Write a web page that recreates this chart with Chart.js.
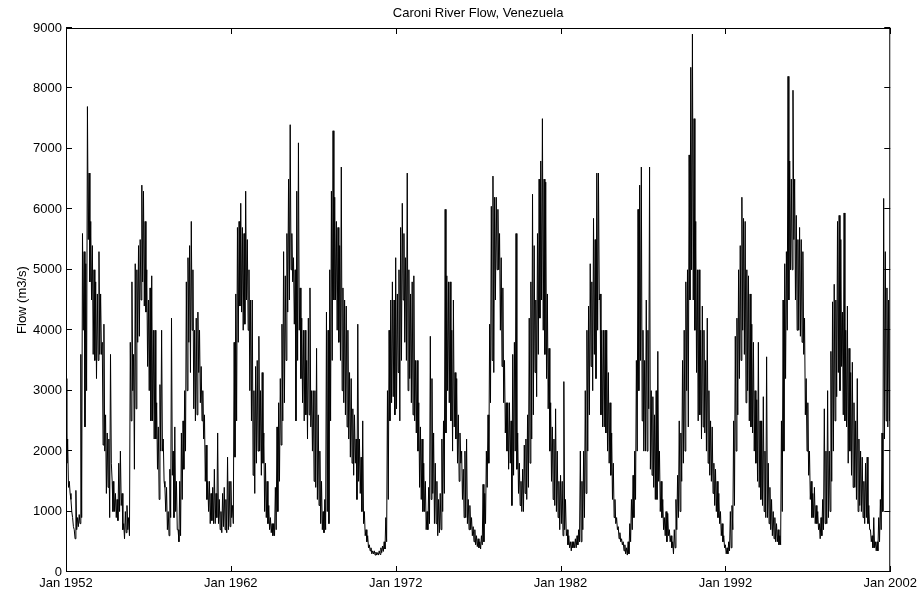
<!DOCTYPE html>
<html>
<head>
<meta charset="utf-8">
<title>Caroni River Flow, Venezuela</title>
<script src="https://cdn.jsdelivr.net/npm/chart.js@4"></script>
<style>
  html, body { margin: 0; padding: 0; background: #fff; }
</style>
</head>
<body>
<canvas id="flow" width="921" height="594"></canvas>
<script>
// Flow (m3/s). Each 0.1 yr slot holds two values:
// the upper then the lower edge of the band drawn in that slot.
const flow1952 = [
  3200,1800, 2200,1400, 1500,1300, 1200,1000, 900,750, 700,550, 1350,700, 900,750, 950,800, 3600,900,
  5600,4000, 5300,2400, 5100,3000, 7700,5500, 6600,4800, 5800,4500, 5400,3600, 5000,3500, 4800,3200, 4600,3500,
  5300,3600, 4600,3600, 3800,2100, 4100,2000, 2600,1300, 2300,1400, 2200,900, 3600,1800, 1500,1000, 1500,1000,
  1300,900, 1200,850, 1800,1000, 2000,1100, 1300,700, 800,550, 1000,650, 1100,700, 900,600, 3800,2500,
  4800,3000, 3600,1700, 5100,2700, 5000,3800, 5400,3900, 5500,4500, 6400,4800, 6300,4400, 5800,4300, 5000,3400,
  4500,3000, 4700,2500, 4900,2500, 4000,2200, 4000,2200, 2800,1700, 2400,1200, 3100,2000, 4000,2000, 2200,1500,
  1400,1000, 1400,700, 1000,600, 1700,900, 4200,1600, 2000,900, 2400,1000, 1500,700, 700,500, 1500,600,
  2300,1200, 2500,1700, 3000,2000, 4800,3000, 5200,3800, 5400,3300, 5800,4000, 5000,2700, 4000,2500, 4200,2600,
  4300,3300, 4000,2800, 3400,2500, 3000,2200, 2600,1500, 2100,1200, 1500,1000, 1500,800, 1300,850, 1400,800,
  1700,800, 1300,900, 2300,800, 1200,700, 1000,650, 1300,750, 1400,700, 1200,650, 1900,700, 1500,750
];
const flow1962 = [
  1500,900, 1100,800, 3800,1900, 4600,2500, 5700,3800, 5800,4400, 6100,4300, 5700,4000, 5600,4100, 6300,4500,
  5500,4000, 5000,3000, 4500,2500, 4500,1600, 3000,1300, 3400,1800, 3500,2000, 3900,2000, 3000,1600, 3300,1800,
  2300,1000, 1800,900, 1500,800, 1100,700, 900,650, 800,600, 800,600, 1400,700, 2400,1000, 2800,1500,
  3200,2100, 4100,2500, 5300,2800, 4900,3500, 5600,4300, 6500,4500, 7400,5000, 5600,4800, 5200,4100, 5000,2500,
  6300,3500, 7100,4000, 4700,3200, 4200,2800, 4000,2500, 4000,2600, 3500,2200, 4200,2600, 4700,2400, 3000,2000,
  3000,1500, 3000,1400, 3700,1200, 2600,1100, 2000,800, 1500,700, 1000,650, 1200,700, 4300,1000, 4000,800,
  5000,2500, 6300,3500, 7300,4500, 6200,4500, 5800,4000, 5700,3800, 5400,3500, 6700,3000, 4700,2800, 4500,2600,
  4400,2400, 4000,2200, 3300,1900, 3200,1800, 2700,1600, 2600,1800, 2200,1200, 4100,1500, 2200,1300, 1900,1000,
  2500,800, 1000,600, 700,500, 600,400, 450,350, 400,300, 350,300, 350,280, 330,280, 320,280,
  350,290, 400,320, 430,340, 500,380, 900,500, 3000,1200, 4000,2500, 4500,2800, 4800,2900, 4500,2600
];
const flow1972 = [
  5200,2700, 4600,3300, 5000,2500, 5700,3500, 6100,4500, 5600,3800, 5200,3500, 6600,3000, 5000,3200, 4600,2800,
  4800,2600, 4900,2500, 3500,2300, 3500,2000, 2800,1400, 2400,1200, 2200,1000, 1800,1000, 1500,700, 1000,700,
  1400,800, 3900,1200, 3200,1300, 2300,800, 1800,800, 1500,600, 1200,650, 1300,700, 2200,1000, 2500,1300,
  6000,2300, 4900,3000, 4800,2800, 4800,2500, 4000,2000, 4500,2400, 3300,2200, 3200,1800, 2600,1500, 2300,1800,
  2000,1200, 1700,900, 2000,900, 2200,800, 1200,700, 1100,700, 900,600, 750,500, 700,450, 600,420,
  550,400, 500,380, 600,450, 1450,500, 1300,800, 2000,1400, 2600,1800, 4100,2800, 6050,3500, 6550,3300,
  6200,4500, 6200,5000, 6000,5000, 5600,4000, 5200,3400, 4700,2800, 3500,2300, 2800,2000, 2800,1700, 2800,1800,
  2500,1100, 3600,1600, 3800,2000, 5600,1700, 2300,1300, 1800,1100, 1500,1000, 1700,1000, 2100,1300, 2200,1200,
  2600,1400, 4200,1800, 4800,2200, 6250,2600, 5400,3300, 4500,2900, 5600,3600, 6500,4200, 6800,4500, 7500,4000,
  6500,3600, 6450,3200, 4600,2700, 3700,2000, 2800,1500, 2400,1200, 2200,1100, 2700,1000, 2000,900, 1500,700
];
const flow1982 = [
  1600,800, 1500,600, 3150,700, 1200,600, 700,450, 600,400, 500,350, 500,400, 500,400, 550,400,
  600,450, 700,500, 2000,500, 1500,700, 2000,900, 3000,1300, 4000,2000, 4400,2600, 5100,3400, 4800,3000,
  5850,3600, 5500,3200, 6600,4000, 6600,4500, 4600,2600, 4000,2400, 4000,2400, 4000,2300, 4000,2000, 3300,1800,
  2800,1600, 2300,1200, 1800,900, 1200,800, 900,700, 750,550, 650,500, 550,450, 500,350, 450,300,
  400,280, 500,300, 800,500, 1200,700, 1600,900, 2000,1200, 3500,2000, 6000,3000, 6400,3500, 6700,2500,
  4000,2000, 3500,2000, 4500,2000, 4000,2700, 6700,1700, 3000,1600, 2900,1400, 2600,1200, 3000,1200, 3650,1500,
  2000,1000, 1500,900, 1200,700, 900,600, 1000,500, 970,600, 700,500, 600,400, 500,300, 700,400,
  1200,700, 1600,900, 2500,1000, 2300,1500, 3500,1800, 4000,2000, 4800,3000, 5000,2400, 6900,4500, 8350,5000,
  8900,4500, 7500,4000, 5800,3300, 5000,2500, 5000,2600, 4000,2200, 4400,2400, 4000,2300, 3500,2000, 4200,1800,
  3000,1600, 2500,1500, 2400,1300, 1800,1100, 1700,1000, 1500,900, 1300,800, 1000,600, 800,500, 600,400
];
const flow1992 = [
  450,300, 400,300, 500,350, 1000,400, 1100,700, 2500,1100, 3900,2000, 4200,2600, 5000,3200, 5400,3500,
  6200,4000, 5850,3600, 5800,2800, 5000,3000, 4900,2500, 4600,2400, 4100,2300, 3800,2000, 3000,1800, 2850,1500,
  3800,1400, 2500,1200, 2500,1100, 2900,1000, 2000,900, 3560,900, 1800,800, 1400,700, 1200,600, 1000,550,
  900,500, 800,500, 700,450, 600,450, 2500,1000, 4500,2000, 5100,3200, 5300,4000, 8200,4500, 6800,5000,
  6500,5000, 7970,5500, 6500,4500, 5900,4000, 5500,4000, 5700,3900, 5500,3800, 5300,3600, 4200,2600, 3200,2000,
  2800,1600, 2000,1200, 1500,900, 1300,900, 1400,800, 1100,800, 1000,700, 800,550, 900,600, 1200,700,
  2700,800, 2000,800, 3000,900, 2000,1000, 3650,1500, 4470,2000, 4760,2500, 4500,2900, 5800,3300, 5900,3000,
  5500,3400, 4300,2600, 5940,2500, 4000,2400, 4400,1800, 3700,2000, 3300,1600, 3470,1400, 2800,1400, 2500,1200,
  3200,1000, 2200,1100, 2000,1000, 1900,900, 1500,800, 1800,900, 1900,800, 1100,700, 700,500, 600,400,
  900,400, 500,350, 500,350, 900,500, 1200,700, 2300,1000, 6180,2200, 5300,2500, 4700,2400, 4500,2500
];

const decadeStarts = [1952, 1962, 1972, 1982, 1992];
const decadeFlows = [flow1952, flow1962, flow1972, flow1982, flow1992];
const slotStep = 0.05; // years between consecutive values

const xTicks = [1952, 1962, 1972, 1982, 1992, 2002];
const yTicks = [0, 1000, 2000, 3000, 4000, 5000, 6000, 7000, 8000, 9000];

const titleText = 'Caroni River Flow, Venezuela';
const yLabel = 'Flow (m3/s)';
const FONT = '"Liberation Sans", Arial, Helvetica, sans-serif';

const points = [];
decadeFlows.forEach((vals, d) => {
  vals.forEach((v, i) => points.push({ x: decadeStarts[d] + i * slotStep, y: v }));
});

// matlab-ish box with inward ticks, title and y label
const frame = {
  id: 'frame',
  afterDraw(chart) {
    const { ctx, chartArea: a, scales: { x, y } } = chart;
    ctx.save();
    ctx.strokeStyle = '#000';
    ctx.lineWidth = 1;
    ctx.strokeRect(a.left + 0.5, a.top + 0.5, a.right - a.left - 1, a.bottom - a.top - 1);
    ctx.beginPath();
    xTicks.forEach(v => {
      const px = Math.round(x.getPixelForValue(v)) + 0.5;
      ctx.moveTo(px, a.bottom); ctx.lineTo(px, a.bottom - 6);
      ctx.moveTo(px, a.top); ctx.lineTo(px, a.top + 6);
    });
    yTicks.forEach(v => {
      const py = Math.round(y.getPixelForValue(v)) - 0.5;
      ctx.moveTo(a.left, py); ctx.lineTo(a.left + 6, py);
      ctx.moveTo(a.right, py); ctx.lineTo(a.right - 6, py);
    });
    ctx.stroke();

    ctx.fillStyle = '#000';
    ctx.font = '13px ' + FONT;
    ctx.textAlign = 'center';
    ctx.textBaseline = 'middle';
    ctx.fillText(titleText, (a.left + a.right) / 2, 13);
    ctx.translate(22, (a.top + a.bottom) / 2);
    ctx.rotate(-Math.PI / 2);
    ctx.fillText(yLabel, 0, 0);
    ctx.restore();
  }
};

new Chart(document.getElementById('flow'), {
  type: 'line',
  data: {
    datasets: [{
      data: points,
      borderColor: '#000',
      borderWidth: 1,
      pointRadius: 0,
      tension: 0,
      fill: false
    }]
  },
  options: {
    responsive: false,
    animation: false,
    parsing: false,
    normalized: true,
    layout: { padding: { left: 0, right: 27, top: 28, bottom: 0 } },
    plugins: { legend: { display: false }, tooltip: { enabled: false } },
    scales: {
      x: {
        type: 'linear',
        min: 1952,
        max: 2002,
        afterBuildTicks: s => { s.ticks = xTicks.map(v => ({ value: v })); },
        afterFit: s => { s.height = 22; },
        grid: { display: false, drawTicks: false },
        border: { display: false },
        ticks: {
          autoSkip: false,
          maxRotation: 0,
          padding: 4,
          color: '#000',
          font: { family: FONT, size: 13 },
          callback: v => 'Jan ' + v
        }
      },
      y: {
        min: 0,
        max: 9000,
        afterBuildTicks: s => { s.ticks = yTicks.map(v => ({ value: v })); },
        afterFit: s => { s.width = 66; },
        grid: { display: false, drawTicks: false },
        border: { display: false },
        ticks: {
          padding: 4,
          color: '#000',
          font: { family: FONT, size: 13 },
          callback: v => String(v)
        }
      }
    }
  },
  plugins: [frame]
});
</script>
</body>
</html>
